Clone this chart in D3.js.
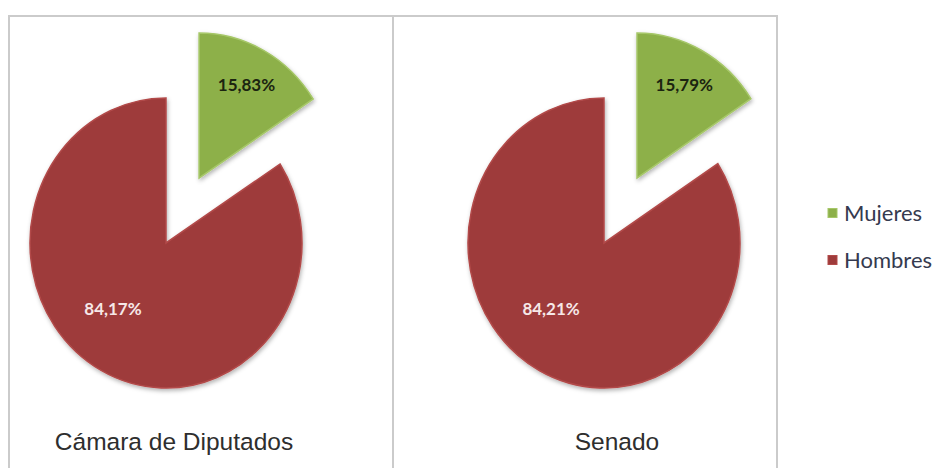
<!DOCTYPE html>
<html>
<head>
<meta charset="utf-8">
<script src="https://cdn.jsdelivr.net/npm/d3@7"></script>
<style>
body { margin: 0; background: #fff; }
</style>
</head>
<body>
<svg id="chart" width="943" height="468"></svg>
<script>
// data
var chambers = ["Cámara de Diputados", "Senado"];
var categories = ["Mujeres", "Hombres"];
var mujeres = [15.83, 15.79];
var hombres = [84.17, 84.21];

var cfg = {
	r: 136,
	sy: 1.066,          // the picture is a little taller than wide
	explode: 0.51,      // Mujeres slice pulled out, fraction of radius
	panelX: [9, 393],
	panelW: 384,
	panelTop: 16,
	cx: [166, 604],
	cy: 243,
	titleX: [174, 617],
	titleY: 450,
	colors: ["#8db04a", "#9e3b3b"],
	strokes: ["#a6c768", "#b24a49"],
	labelColors: ["#1b2410", "#f6e8e8"],
	labelR: [0.73, 0.60],
	labelTurn: [0, 0.21]
};

var color = d3.scaleOrdinal().domain(categories).range(cfg.colors);
var stroke = d3.scaleOrdinal().domain(categories).range(cfg.strokes);
var labelColor = d3.scaleOrdinal().domain(categories).range(cfg.labelColors);

var fmt = d3.formatLocale({ decimal: ",", thousands: ".", grouping: [3], currency: ["", ""] }).format(".2f");

var svg = d3.select("#chart");

var defs = svg.append("defs");
var f = defs.append("filter").attr("id", "shadow")
	.attr("x", "-20%").attr("y", "-20%").attr("width", "140%").attr("height", "140%");
f.append("feDropShadow")
	.attr("dx", 1).attr("dy", 2).attr("stdDeviation", 2)
	.attr("flood-color", "#000").attr("flood-opacity", 0.3);

// panel frames
svg.selectAll(".frame")
	.data(chambers)
	.enter()
	.append("rect")
	.attr("class", "frame")
	.attr("x", function (d, i) { return cfg.panelX[i]; })
	.attr("y", cfg.panelTop)
	.attr("width", cfg.panelW)
	.attr("height", 500)
	.style("fill", "none")
	.style("stroke", "#cbcbcb")
	.style("stroke-width", "2px");

var pie = d3.pie().sort(null).value(function (d) { return d.value; });
var arc = d3.arc().innerRadius(0).outerRadius(cfg.r);

chambers.forEach(function (name, c) {
	var rows = [
		{ cat: categories[0], value: mujeres[c] },
		{ cat: categories[1], value: hombres[c] }
	];
	var slices = pie(rows);

	var g = svg.append("g")
		.attr("transform", "translate(" + cfg.cx[c] + "," + cfg.cy + ")");

	function offset(d, i) {
		if (i != 0) return [0, 0];
		var a = (d.startAngle + d.endAngle) / 2;
		return [cfg.explode * cfg.r * Math.sin(a), -cfg.explode * cfg.r * Math.cos(a) * cfg.sy];
	}

	g.selectAll(".slice")
		.data(slices)
		.enter()
		.append("path")
		.attr("class", "slice")
		.attr("d", arc)
		.attr("transform", function (d, i) {
			var o = offset(d, i);
			return "translate(" + o[0] + "," + o[1] + ") scale(1," + cfg.sy + ")";
		})
		.style("fill", function (d) { return color(d.data.cat); })
		.style("stroke", function (d) { return stroke(d.data.cat); })
		.style("stroke-width", "1.5px")
		.style("filter", "url(#shadow)");

	g.selectAll(".lbl")
		.data(slices)
		.enter()
		.append("text")
		.attr("class", "lbl")
		.attr("x", function (d, i) {
			var a = (d.startAngle + d.endAngle) / 2 + cfg.labelTurn[i];
			return offset(d, i)[0] + cfg.labelR[i] * cfg.r * Math.sin(a);
		})
		.attr("y", function (d, i) {
			var a = (d.startAngle + d.endAngle) / 2 + cfg.labelTurn[i];
			return offset(d, i)[1] - cfg.labelR[i] * cfg.r * Math.cos(a) * cfg.sy;
		})
		.attr("dy", "0.35em")
		.attr("text-anchor", "middle")
		.style("font-family", "Lato, sans-serif")
		.style("font-weight", "bold")
		.style("font-size", "17px")
		.style("fill", function (d) { return labelColor(d.data.cat); })
		.text(function (d) { return fmt(d.data.value) + "%"; });

	svg.append("text")
		.attr("x", cfg.titleX[c])
		.attr("y", cfg.titleY)
		.attr("text-anchor", "middle")
		.style("font-family", "'Liberation Sans', Arial, sans-serif")
		.style("font-size", "24.5px")
		.style("fill", "#2e2e2e")
		.text(name);
});

// legend
var legend = svg.selectAll(".legend")
	.data(categories)
	.enter()
	.append("g")
	.attr("class", "legend")
	.attr("transform", function (d, i) { return "translate(828," + (213 + i * 47) + ")"; });

legend.append("rect")
	.attr("x", 0)
	.attr("y", -4.5)
	.attr("width", 9)
	.attr("height", 9)
	.style("fill", function (d) { return color(d); })
	.style("stroke", function (d) { return stroke(d); })
	.style("stroke-width", "1px");

legend.append("text")
	.attr("x", 16)
	.attr("y", 0)
	.attr("dy", "0.35em")
	.style("font-family", "Lato, sans-serif")
	.style("font-size", "22px")
	.style("fill", "#353a4f")
	.text(function (d) { return d; });
</script>
</body>
</html>
